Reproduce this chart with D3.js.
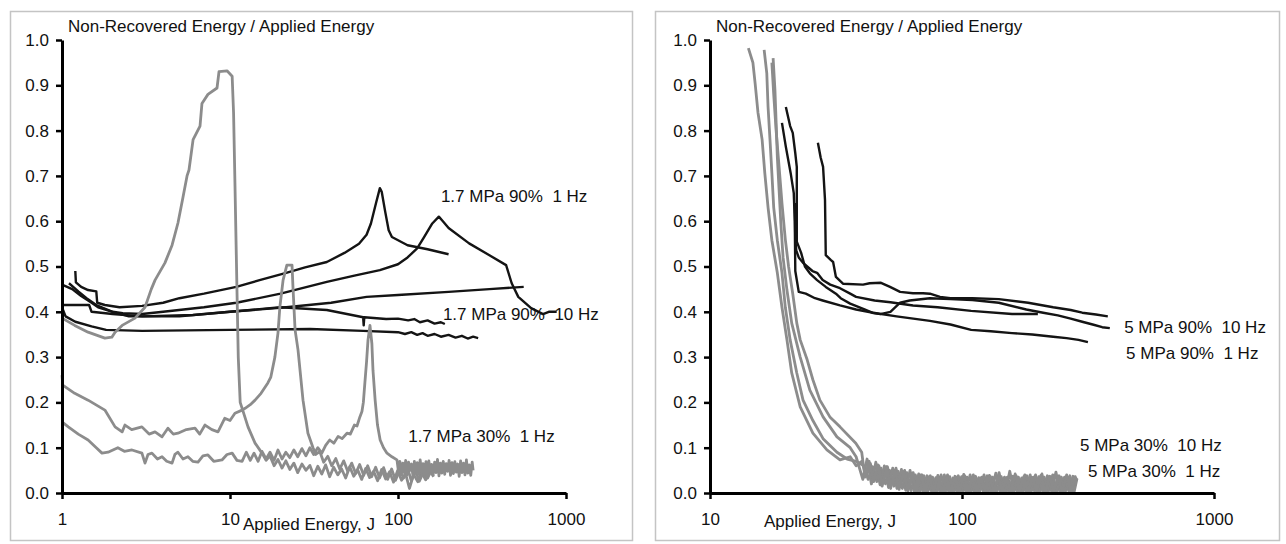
<!DOCTYPE html>
<html>
<head>
<meta charset="utf-8">
<script src="https://d3js.org/d3.v7.min.js"></script>
<style>
    body { margin: 0; background: #fff; }
    text { font-family: "Liberation Sans", Arial, sans-serif; fill: #111; }
</style>
</head>
<body>
<div class="chart"></div>
<script>
// Energy dissipation charts, 1.7 MPa (left) and 5 MPa (right)

// Axis values and texts
var yTicks = [0, 0.1, 0.2, 0.3, 0.4, 0.5, 0.6, 0.7, 0.8, 0.9, 1.0];
var leftXTicks = [1, 10, 100, 1000];
var rightXTicks = [10, 100, 1000];
var yTitle = "Non-Recovered Energy / Applied Energy";
var xTitle = "Applied Energy, J";
var leftNoteTexts = ["1.7 MPa 90%  1 Hz", "1.7 MPa 90%  10 Hz", "1.7 MPa 30%  1 Hz"];
var rightNoteTexts = ["5 MPa 90%  10 Hz", "5 MPa 90%  1 Hz", "5 MPa 30%  10 Hz", "5 MPa 30%  1 Hz"];

// Left panel, 30% tests (grey) - [applied energy J, ratio]
var leftGrayA = [[1,0.386],[1.19,0.37],[1.43,0.355],[1.8,0.342],[1.98,0.344],[2.07,0.355],[2.28,0.37],[2.72,0.386],[3.12,0.41],[3.4,0.45],[3.58,0.47],[4.1,0.508],[4.52,0.547],[4.9,0.596],[5.25,0.653],[5.55,0.7],[5.7,0.713],[6.03,0.78],[6.63,0.81],[6.81,0.86],[7.39,0.88],[8.37,0.894],[8.6,0.93],[9.6,0.932],[10.3,0.92],[10.5,0.84],[10.7,0.685],[11.0,0.45],[11.2,0.3],[11.5,0.2],[11.9,0.183],[12.8,0.146],[14.1,0.11],[15.5,0.088],
    [16.4,0.072],[17.3,0.082],[18.3,0.06],[19.3,0.074],[20.4,0.055],[21.5,0.071],[22.7,0.052],[24.0,0.066],[25.3,0.045],[26.8,0.064],[28.3,0.05],[29.9,0.061],[31.5,0.038],[33.3,0.059],[35.2,0.042],[37.1,0.062],[39.2,0.036],[41.4,0.057],[43.8,0.04],[46.2,0.053],[48.8,0.033],[51.6,0.058],[54.5,0.037],[57.5,0.051],[60.8,0.03],[64.2,0.054],[67.8,0.034],[71.6,0.048],[75.6,0.027],[79.9,0.052],[84.4,0.031],[89.1,0.047],[94.1,0.024],[99.4,0.049],[105,0.028],[111,0.042],[117,0.01],[124,0.041],[131,0.025],[138,0.046],[146,0.029],[154,0.05],[163,0.036]];
var leftGrayB = [[1,0.26],[1.01,0.238],[1.19,0.22],[1.43,0.205],[1.8,0.183],[2.07,0.146],[2.28,0.135],[2.37,0.15],[2.6,0.14],[2.99,0.146],[3.3,0.13],[3.58,0.135],[3.94,0.124],[4.27,0.143],[4.6,0.13],[4.9,0.132],[5.5,0.14],[6.19,0.143],[6.6,0.13],[7.1,0.15],[7.8,0.14],[8.48,0.135],[9.3,0.165],[10.0,0.16],[10.7,0.176],[11.8,0.183],[12.3,0.187],[13.2,0.195],[14.1,0.205],[15.3,0.22],[16.8,0.243],[17.5,0.256],[18.5,0.3],[19.3,0.353],[19.8,0.41],[20.7,0.47],[21.8,0.503],[23.4,0.503],[23.7,0.455],[24.4,0.36],[25.4,0.316],[27.2,0.205],[29.1,0.132],[31.2,0.1],
    [32.4,0.085],[34.2,0.092],[36.1,0.068],[38.2,0.081],[40.3,0.06],[42.6,0.076],[45.0,0.053],[47.5,0.071],[50.2,0.048],[53.0,0.066],[56.0,0.043],[59.1,0.063],[62.5,0.039],[66.0,0.06],[69.7,0.036],[73.6,0.057],[77.7,0.033],[82.1,0.056],[86.7,0.03],[91.6,0.053],[96.7,0.028],[102,0.051],[108,0.033],[114,0.055],[120,0.027],[127,0.049],[134,0.026],[142,0.047],[150,0.033],[158,0.05]];
var leftGrayC = [[1,0.157],[1.09,0.146],[1.25,0.13],[1.43,0.117],[1.6,0.1],[1.73,0.088],[1.88,0.09],[2.15,0.1],[2.35,0.092],[2.61,0.095],[2.99,0.088],[3.12,0.066],[3.25,0.085],[3.43,0.088],[3.7,0.075],[3.94,0.08],[4.2,0.07],[4.52,0.066],[4.7,0.085],[4.9,0.09],[5.25,0.075],[5.62,0.08],[6.0,0.07],[6.45,0.068],[6.9,0.082],[7.39,0.084],[8.0,0.07],[8.96,0.073],[9.6,0.085],[10.3,0.088],[11.0,0.072],[11.8,0.07],
    [12.5,0.09],[13.2,0.072],[13.9,0.088],[14.7,0.07],[15.5,0.092],[16.4,0.075],[17.3,0.09],[18.3,0.072],[19.3,0.095],[20.4,0.075],[21.5,0.09],[22.7,0.078],[24.0,0.095],[25.3,0.08],[26.8,0.098],[28.3,0.082],[29.9,0.1],[31.5,0.085],[33.3,0.1],[35.2,0.088],[37.1,0.105],[39.2,0.117],[41.5,0.11],[44,0.125],[46.5,0.12],[49.7,0.132],[52,0.13],[55,0.15],[57,0.148],[59.3,0.168],[61,0.18],[62.2,0.2],[63.5,0.243],[65,0.29],[66.3,0.338],[68.1,0.37],[69.9,0.33],[71,0.27],[73.1,0.205],[75.5,0.15],[78.3,0.117],[82,0.1],[86,0.088],[92,0.08],[98.6,0.073]];
var leftTailXC = [100.6,102.6,104.7,106.8,108.9,111.1,113.3,115.6,117.9,120.3,122.7,125.1,127.6,130.2,132.8,135.5,138.2,141,143.8,146.7,149.6,152.6,155.6,158.7,161.9,165.2,168.5,171.8,175.3,178.8,182.4,186,189.7,193.5,197.4,201.4,205.4,209.5,213.7,218,222.3,226.8,231.3,235.9,240.6,245.5,250.4,255.4,260.5,265.7,271,276.4,280];
var leftTailYC = [0.048,0.07,0.042,0.066,0.045,0.072,0.04,0.068,0.05,0.064,0.038,0.07,0.044,0.067,0.041,0.073,0.046,0.065,0.039,0.069,0.043,0.071,0.047,0.063,0.04,0.068,0.045,0.074,0.038,0.066,0.044,0.07,0.041,0.065,0.048,0.072,0.039,0.067,0.043,0.069,0.046,0.064,0.037,0.071,0.045,0.066,0.04,0.073,0.044,0.062,0.039,0.068,0.05];

// Left panel, 90% tests (black)
var leftBlackA = [[1.2,0.49],[1.21,0.465],[1.3,0.455],[1.43,0.448],[1.6,0.445],[1.62,0.42],[1.8,0.415],[2.2,0.41],[3.0,0.413],[4.0,0.42],[5.0,0.43],[7.0,0.44],[10.9,0.455],[15,0.47],[21.6,0.486],[28,0.498],[37.7,0.51],[48,0.53],[58.6,0.55],[65,0.57],[69,0.595],[74,0.64],[78,0.673],[80,0.665],[84,0.62],[88,0.58],[92,0.565],[114,0.547],[150,0.538],[200,0.527]];
var leftBlackB = [[1,0.46],[1.15,0.45],[1.3,0.435],[1.5,0.42],[1.64,0.41],[2.0,0.4],[2.3,0.397],[3.0,0.395],[4.0,0.4],[7.0,0.41],[10.9,0.42],[20,0.44],[37.7,0.466],[55,0.48],[78,0.492],[100,0.505],[114,0.52],[130,0.54],[143,0.565],[160,0.595],[175,0.61],[185,0.6],[200,0.585],[265,0.551],[350,0.525],[440,0.503],[475,0.463],[520,0.433],[620,0.408],[730,0.395],[790,0.4],[880,0.4]];
var leftBlackC = [[1.1,0.463],[1.25,0.445],[1.4,0.43],[1.6,0.415],[2.0,0.4],[2.5,0.39],[5,0.39],[10,0.4],[21.6,0.41],[40,0.42],[65,0.433],[100,0.437],[200,0.444],[350,0.45],[560,0.455]];
var leftBlackD = [[1,0.415],[1.45,0.415],[1.5,0.4],[2.0,0.395],[3.0,0.39],[6,0.393],[10,0.4],[20,0.41],[37.7,0.404],[62,0.388],[62.5,0.37],[63,0.388],[85,0.384],[100,0.385],[115,0.381],[125,0.384],[135,0.377],[150,0.381],[165,0.374],[180,0.377],[190,0.373]];
var leftBlackE = [[1,0.41],[1.05,0.39],[1.2,0.378],[1.5,0.368],[1.83,0.36],[3,0.358],[10,0.36],[30,0.362],[62,0.358],[100,0.355],[110,0.351],[120,0.355],[130,0.349],[140,0.353],[150,0.347],[165,0.351],[180,0.345],[200,0.349],[220,0.343],[240,0.347],[260,0.341],[280,0.345],[300,0.342]];

// Right panel, 30% tests (grey): heads, then noisy tails on four energy grids
var rightGrayHeadA = [[14.2,0.982],[14.8,0.95],[15.1,0.905],[15.5,0.84],[16.1,0.78],[16.5,0.706],[17.0,0.63],[17.6,0.558],[18.5,0.486],[19.3,0.41],[20.2,0.338],[21.1,0.265],[22.8,0.19],[25.6,0.132],[29.1,0.095],[32.8,0.073],[36,0.08],[38,0.06]];
var rightGrayHeadB = [[16.4,0.978],[16.8,0.927],[17.0,0.852],[17.3,0.78],[17.6,0.706],[17.9,0.63],[18.5,0.558],[19.3,0.486],[19.9,0.41],[20.8,0.338],[22.1,0.265],[23.4,0.205],[25.6,0.16],[28.1,0.12],[31.9,0.09],[35,0.075],[38,0.07]];
var rightGrayHeadC = [[17.8,0.96],[18.1,0.89],[18.3,0.817],[18.5,0.742],[18.8,0.669],[19.1,0.596],[19.5,0.52],[20.2,0.448],[21.1,0.375],[22.8,0.3],[24.9,0.227],[28.1,0.168],[31.9,0.124],[36,0.1],[38,0.08]];
var rightGrayHeadD = [[17.6,0.95],[17.9,0.88],[18.3,0.8],[18.8,0.72],[19.3,0.64],[19.9,0.56],[20.5,0.5],[21.3,0.44],[22.1,0.375],[22.8,0.338],[24.3,0.294],[25.6,0.25],[27.3,0.205],[29.9,0.168],[32.8,0.146],[37.9,0.11],[40,0.09]];
var rightTailXA = [40,41.6,43.3,45.0,46.8,48.7,50.6,52.6,54.7,56.9,59.2,61.6,64.0,66.6,69.3,72.0,74.9,77.9,81.0,84.3,87.6,91.1,94.8,98.6,102.5,106.6,110.9,115.3,119.9,124.7,129.7,134.9,140.3,145.9,151.7,157.8,164.1,170.7,177.5,184.6,192.0,199.7,207.6,215.9,224.6,233.6,242.9,252.6,262.7,273.2,284.1];
var rightTailYA = [0.07,0.04,0.065,0.03,0.06,0.025,0.058,0.02,0.055,0.015,0.05,0.01,0.045,0.005,0.04,0.003,0.038,0.002,0.035,0.003,0.04,0.002,0.035,0.004,0.038,0.002,0.04,0.003,0.035,0.002,0.036,0.004,0.045,0.002,0.035,0.003,0.038,0.002,0.04,0.003,0.035,0.002,0.042,0.003,0.036,0.002,0.038,0.003,0.035,0.004,0.03];
var rightTailXB = [40.8,42.4,44.2,45.9,47.7,49.7,51.6,53.7,55.8,58.0,60.4,62.8,65.3,67.9,70.7,73.4,76.4,79.5,82.6,86.0,89.4,92.9,96.7,100.6,104.6,108.7,113.1,117.6,122.3,127.2,132.3,137.6,143.1,148.8,154.7,161.0,167.4,174.1,181.1,188.3,195.8,203.7,211.8,220.2,229.1,238.3,247.8,257.7,268.0,278.7,286];
var rightTailYB = [0.06,0.03,0.058,0.025,0.055,0.02,0.05,0.015,0.048,0.01,0.045,0.005,0.04,0.002,0.038,0.004,0.035,0.002,0.04,0.003,0.036,0.002,0.038,0.003,0.035,0.002,0.037,0.004,0.04,0.002,0.035,0.003,0.036,0.002,0.048,0.003,0.035,0.002,0.038,0.003,0.04,0.002,0.035,0.003,0.04,0.002,0.035,0.004,0.038,0.003,0.032];
var rightTailXC = [40.4,42.0,43.7,45.5,47.3,49.2,51.1,53.1,55.2,57.5,59.8,62.2,64.6,67.3,70.0,72.7,75.6,78.7,81.8,85.1,88.5,92.0,95.7,99.6,103.5,107.7,112.0,116.5,121.1,125.9,131.0,136.2,141.7,147.4,153.2,159.4,165.7,172.4,179.3,186.4,193.9,201.7,209.7,218.1,226.8,235.9,245.3,255.1,265.3,275.9,285.5];
var rightTailYC = [0.03,0.075,0.02,0.068,0.018,0.06,0.012,0.055,0.01,0.052,0.006,0.05,0.003,0.042,0.002,0.038,0.004,0.034,0.002,0.04,0.003,0.033,0.001,0.036,0.003,0.04,0.002,0.034,0.004,0.038,0.002,0.044,0.003,0.035,0.002,0.037,0.003,0.033,0.002,0.04,0.004,0.036,0.002,0.038,0.003,0.046,0.002,0.035,0.004,0.037,0.03];
var rightTailXD = [41.2,42.8,44.6,46.4,48.2,50.2,52.1,54.2,56.3,58.6,61.0,63.4,65.9,68.6,71.4,74.2,77.1,80.2,83.4,86.8,90.2,93.8,97.6,101.6,105.6,109.8,114.2,118.8,123.5,128.4,133.6,138.9,144.5,150.3,156.3,162.5,169.0,175.8,182.8,190.1,197.8,205.7,213.8,222.4,231.3,240.6,250.2,260.2,270.6,281.4,285.0];
var rightTailYD = [0.035,0.07,0.025,0.062,0.015,0.058,0.01,0.05,0.008,0.047,0.004,0.044,0.002,0.04,0.003,0.036,0.002,0.039,0.001,0.034,0.003,0.037,0.002,0.041,0.003,0.035,0.002,0.033,0.004,0.039,0.002,0.036,0.003,0.034,0.002,0.042,0.003,0.036,0.002,0.034,0.003,0.039,0.002,0.037,0.004,0.035,0.002,0.04,0.003,0.036,0.028];

// Right panel, 90% tests (black)
var rightBlackA = [[20.0,0.852],[20.8,0.81],[21.3,0.795],[21.8,0.75],[22.1,0.72],[22.1,0.6],[22.1,0.555],[23.0,0.53],[23.8,0.5],[24.9,0.485],[26.6,0.47],[28.8,0.455],[31.6,0.44],[33,0.43],[36,0.418],[40.8,0.406],[44,0.398],[47.4,0.395],[52,0.4],[56.8,0.42],[62,0.425],[74.6,0.43],[90,0.428],[110,0.426],[140,0.42],[180,0.405],[210,0.398],[240,0.392],[270,0.385],[300,0.378],[330,0.372],[360,0.366],[386,0.364]];
var rightBlackB = [[19.3,0.817],[20.0,0.764],[20.9,0.706],[21.5,0.662],[21.7,0.6],[21.8,0.49],[22.5,0.444],[24,0.44],[26.1,0.43],[28,0.425],[32.8,0.414],[38,0.405],[44.4,0.398],[55,0.39],[74.6,0.38],[90,0.372],[108.7,0.36],[130,0.357],[158,0.353],[190,0.35],[230,0.345],[260,0.342],[290,0.338],[316,0.333]];
var rightBlackC = [[26.8,0.773],[27.5,0.74],[28.1,0.72],[28.6,0.647],[28.8,0.525],[30.2,0.514],[30.8,0.51],[31.6,0.477],[33.7,0.462],[40.5,0.46],[43,0.463],[47.7,0.464],[51.8,0.455],[56.8,0.444],[63.9,0.441],[70,0.441],[74.6,0.44],[81.8,0.433],[90,0.43],[110,0.43],[140,0.428],[183,0.42],[230,0.41],[270,0.404],[300,0.398],[340,0.394],[379,0.39]];
var rightBlackD = [[21.7,0.64],[21.8,0.56],[22.0,0.535],[22.5,0.52],[23.4,0.508],[24.3,0.5],[25.5,0.49],[26.6,0.486],[28,0.47],[30,0.46],[32.8,0.452],[36,0.44],[38,0.433],[45,0.425],[52,0.421],[63.9,0.414],[80,0.41],[108.7,0.402],[158,0.395],[200,0.395]];

// join a tail grid onto a head
function withTail(head, xs, ys) {
    return head.concat(d3.zip(xs, ys));
}

var svgWidth = 1286;
var svgHeight = 544;

var svg = d3.select(".chart")
    .append("svg")
    .attr("width", svgWidth)
    .attr("height", svgHeight);

var panels = [
    {
        frame: [10.5, 11.5, 622, 529],
        xDomain: [1, 1000], xRange: [62, 566], xTicks: leftXTicks,
        titleX: 68, xTitleX: 243, xTitleY: 530,
        black: [leftBlackA, leftBlackB, leftBlackC, leftBlackD, leftBlackE],
        gray: [leftGrayA, leftGrayB, withTail(leftGrayC, leftTailXC, leftTailYC)],
        notes: leftNoteTexts,
        noteAt: [[180, 0.642], [185, 0.382], [115, 0.113]]
    },
    {
        frame: [655.5, 11.5, 624, 529],
        xDomain: [10, 1000], xRange: [710, 1214], xTicks: rightXTicks,
        titleX: 716, xTitleX: 764, xTitleY: 527,
        black: [rightBlackA, rightBlackB, rightBlackC, rightBlackD],
        gray: [withTail(rightGrayHeadA, rightTailXA, rightTailYA),
               withTail(rightGrayHeadB, rightTailXB, rightTailYB),
               withTail(rightGrayHeadC, rightTailXC, rightTailYC),
               withTail(rightGrayHeadD, rightTailXD, rightTailYD)],
        notes: rightNoteTexts,
        noteAt: [[440, 0.353], [448, 0.296], [294, 0.093], [316, 0.035]]
    }
];

panels.forEach(drawPanel);

function drawPanel(p) {
    var g = svg.append("g");

    // frame
    g.append("rect")
        .attr("x", p.frame[0]).attr("y", p.frame[1])
        .attr("width", p.frame[2]).attr("height", p.frame[3])
        .attr("fill", "none")
        .attr("stroke", "#c4c4c4")
        .attr("stroke-width", 1.5);

    // scales
    var x = d3.scaleLog().domain(p.xDomain).range(p.xRange);
    var y = d3.scaleLinear().domain([0, 1]).range([493, 40]);

    var line = d3.line()
        .x(d => x(d[0]))
        .y(d => y(d[1]));

    // black curves
    g.selectAll(".black")
        .data(p.black)
        .enter()
        .append("path")
        .attr("class", "black")
        .attr("d", line)
        .attr("fill", "none")
        .attr("stroke", "#141414")
        .attr("stroke-width", 2.4)
        .attr("stroke-linejoin", "round");

    // grey curves
    g.selectAll(".gray")
        .data(p.gray)
        .enter()
        .append("path")
        .attr("class", "gray")
        .attr("d", line)
        .attr("fill", "none")
        .attr("stroke", "#8c8c8c")
        .attr("stroke-width", 2.8)
        .attr("stroke-linejoin", "round");

    // axes
    var leftAxis = d3.axisLeft(y)
        .tickValues(yTicks)
        .tickFormat(d3.format(".1f"))
        .tickSize(6)
        .tickSizeOuter(0)
        .tickPadding(7);

    var bottomAxis = d3.axisBottom(x)
        .tickValues(p.xTicks)
        .tickFormat(d3.format("d"))
        .tickSize(6)
        .tickSizeOuter(0)
        .tickPadding(14);

    var ya = g.append("g")
        .attr("transform", `translate(${p.xRange[0]}, 0)`)
        .call(leftAxis);

    var xa = g.append("g")
        .attr("transform", `translate(0, 493)`)
        .call(bottomAxis);

    [ya, xa].forEach(function (a) {
        a.attr("font-family", null).attr("font-size", null).attr("color", "#000");
        a.select(".domain").style("stroke-width", "3px");
        a.selectAll(".tick line").style("stroke-width", "2.5px");
        a.selectAll(".tick text").style("font-size", "17px");
    });

    // titles
    g.append("text")
        .attr("x", p.titleX)
        .attr("y", 32)
        .style("font-size", "17px")
        .text(yTitle);

    g.append("text")
        .attr("x", p.xTitleX)
        .attr("y", p.xTitleY)
        .style("font-size", "17px")
        .text(xTitle);

    // series notes
    g.selectAll(".note")
        .data(p.notes)
        .enter()
        .append("text")
        .attr("class", "note")
        .attr("x", (d, i) => x(p.noteAt[i][0]))
        .attr("y", (d, i) => y(p.noteAt[i][1]))
        .style("font-size", "17px")
        .style("white-space", "pre")
        .text(d => d);
}
</script>
</body>
</html>
